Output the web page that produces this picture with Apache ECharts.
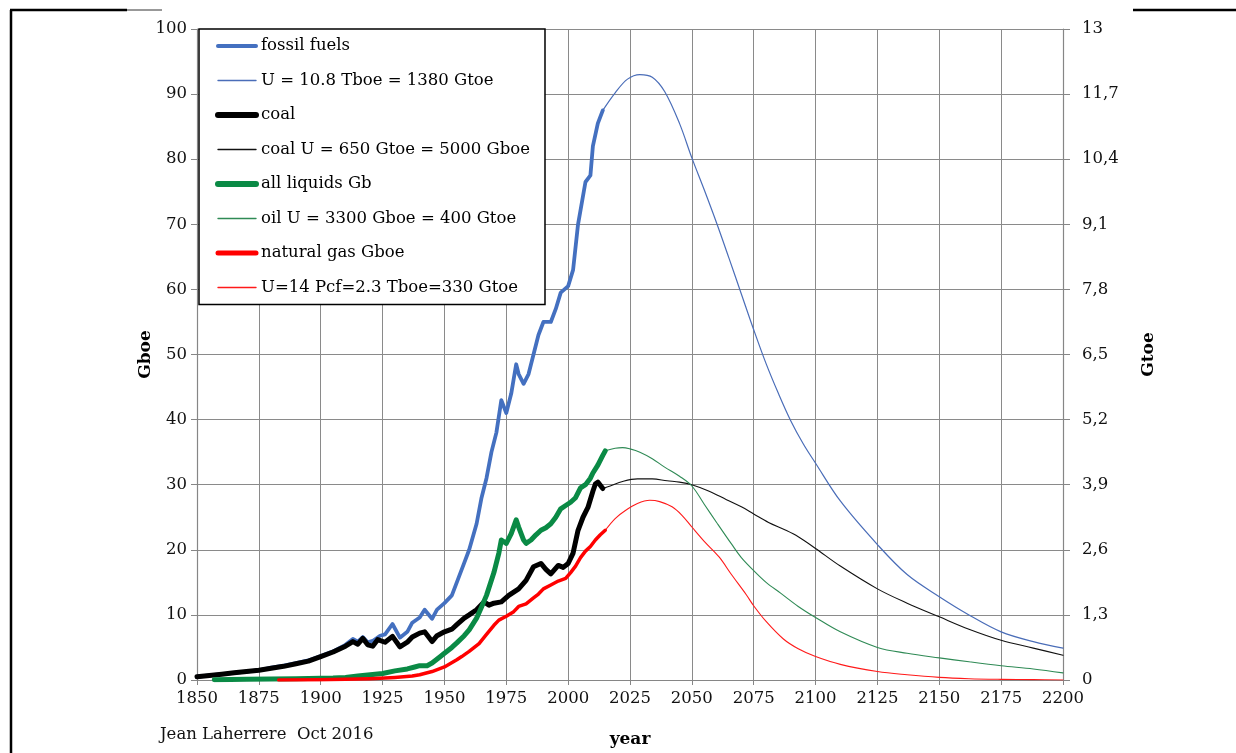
<!DOCTYPE html>
<html>
<head>
<meta charset="utf-8">
<script src="https://cdn.jsdelivr.net/npm/echarts@6/dist/echarts.min.js"></script>
<style>
  html, body { margin: 0; padding: 0; background: #fff; }
  #chart { width: 1236px; height: 753px; }
</style>
</head>
<body>
<div id="chart"></div>
<script>
// ---------- DATA ----------
const xTicks = [1850, 1875, 1900, 1925, 1950, 1975, 2000, 2025, 2050, 2075, 2100, 2125, 2150, 2175, 2200];

const seriesNames = [
  'fossil fuels',
  'U = 10.8 Tboe = 1380 Gtoe',
  'coal',
  'coal U = 650 Gtoe = 5000 Gboe',
  'all liquids Gb',
  'oil U = 3300 Gboe = 400 Gtoe',
  'natural gas Gboe',
  'U=14 Pcf=2.3 Tboe=330 Gtoe'
];

// fossil fuels (historic, Gboe)
const fossilYears = [1850,1855,1860,1865,1870,1875,1880,1885,1890,1895,1900,1905,1910,1913,1915,1917,1919,1921,1924,1926,1929,1932,1935,1937,1940,1942,1945,1947,1950,1953,1955,1958,1960,1963,1965,1967,1969,1971,1973,1975,1977,1979,1980,1982,1984,1986,1988,1990,1993,1995,1997,2000,2002,2004,2007,2009,2010,2012,2014];
const fossilValues = [0.5,0.7,0.9,1.1,1.3,1.5,1.9,2.2,2.6,3.0,3.7,4.4,5.4,6.3,5.9,6.6,5.8,6.0,6.8,7.0,8.6,6.5,7.4,8.8,9.6,10.8,9.4,10.8,11.8,13,15,18,20,24,28,31,35,38,43,41,44,48.5,47,45.5,47,50,53,55,55,57,59.5,60.5,63,70,76.5,77.5,82,85.5,87.5];

// fossil fuels model U = 10.8 Tboe
const fossilModelYears = [2014,2019,2024,2029,2034,2039,2045,2050,2055,2060,2065,2070,2075,2080,2085,2090,2095,2100,2110,2125,2137,2150,2162,2175,2188,2200];
const fossilModelValues = [87.5,90.2,92.3,93,92.6,90.4,85.5,80.2,75.3,70.2,64.8,59.3,53.8,48.6,44,39.8,36.3,33.3,27.5,20.8,16.2,12.8,10,7.4,5.9,4.9];

// coal (historic)
const coalYears = [1850,1855,1860,1865,1870,1875,1880,1885,1890,1895,1900,1905,1910,1913,1915,1917,1919,1921,1923,1926,1929,1932,1935,1937,1940,1942,1945,1947,1950,1953,1955,1958,1960,1963,1966,1968,1970,1973,1976,1980,1983,1986,1989,1991,1993,1996,1998,2000,2002,2004,2006,2008,2010,2011,2012,2014];
const coalValues = [0.5,0.7,0.9,1.1,1.3,1.5,1.8,2.1,2.5,2.9,3.6,4.3,5.2,5.9,5.5,6.4,5.4,5.2,6.2,5.8,6.7,5.1,5.8,6.6,7.2,7.4,5.9,6.8,7.4,7.8,8.5,9.5,10,10.8,12,11.5,11.8,12,13,14,15.3,17.4,17.9,17,16.3,17.6,17.3,17.9,19.5,23,25,26.5,29,30.1,30.4,29.4];

// coal model
const coalModelYears = [2014,2017,2022,2028,2034,2040,2045,2050,2057,2064,2070,2075,2081,2088,2093,2100,2110,2125,2137,2150,2162,2175,2188,2200];
const coalModelValues = [29.4,29.8,30.5,30.9,30.9,30.6,30.4,30,29,27.7,26.6,25.5,24.2,23,22,20.2,17.5,14,11.8,9.7,7.8,6.1,4.9,3.8];

// all liquids (historic, Gb)
const liquidsYears = [1857,1870,1880,1890,1900,1905,1910,1915,1920,1925,1930,1935,1938,1940,1943,1945,1948,1950,1953,1955,1958,1960,1963,1965,1967,1970,1972,1973,1975,1977,1979,1980,1982,1983,1985,1987,1989,1991,1993,1995,1997,1999,2001,2003,2005,2007,2009,2010,2012,2014,2015];
const liquidsValues = [0.05,0.1,0.15,0.2,0.25,0.3,0.4,0.6,0.8,1.0,1.4,1.7,2.0,2.2,2.2,2.6,3.5,4.1,5,5.7,6.8,7.7,9.5,11.2,13,16.5,19.5,21.5,21,22.5,24.6,23.5,21.5,21,21.5,22.3,23,23.4,24,25,26.3,26.8,27.3,28,29.5,30,31,31.8,33,34.5,35.2];

// oil model
const oilModelYears = [2015,2019,2022,2025,2029,2034,2039,2045,2050,2055,2060,2066,2070,2075,2080,2086,2093,2100,2110,2125,2137,2150,2162,2175,2188,2200];
const oilModelValues = [35.2,35.6,35.7,35.5,35,34,32.7,31.3,29.8,27,24.2,20.9,18.8,16.8,15,13.3,11.3,9.6,7.4,5.0,4.1,3.4,2.8,2.2,1.7,1.1];

// natural gas (historic, Gboe)
const gasYears = [1883,1900,1910,1920,1926,1930,1937,1940,1945,1950,1955,1957,1960,1964,1967,1970,1972,1975,1978,1980,1983,1986,1988,1990,1993,1996,1999,2001,2003,2005,2007,2009,2011,2013,2015];
const gasValues = [0,0.05,0.1,0.2,0.3,0.4,0.6,0.8,1.3,2.0,3.1,3.6,4.4,5.6,7,8.4,9.2,9.8,10.5,11.3,11.7,12.6,13.2,14,14.6,15.2,15.6,16.5,17.5,18.8,19.8,20.5,21.5,22.3,23];

// gas model
const gasModelYears = [2015,2019,2023,2028,2033,2037,2042,2046,2050,2055,2061,2066,2072,2075,2080,2087,2093,2100,2110,2125,2137,2150,2162,2175,2188,2200];
const gasModelValues = [23,24.8,26,27.1,27.6,27.4,26.6,25.3,23.5,21.3,18.9,16.2,13.1,11.4,9,6.3,4.8,3.6,2.4,1.3,0.8,0.4,0.2,0.1,0.05,0];

// ---------- CHART ----------
const zip = (xs, ys) => xs.map((x, i) => [x, ys[i]]);
const FONT = 'DejaVu Serif';

const seriesColors = ['#4470c0', '#4a6db8', '#000000', '#111111', '#0a8a45', '#2f8a55', '#ff0000', '#ff1a1a'];
const seriesWidths = [3.8, 1.2, 5, 1.1, 5, 1.1, 3.5, 1.1];
const legendWidths = [4, 1.4, 6, 1.4, 6, 1.4, 5, 1.4];

function lineSeries(i, xs, ys, smooth, z) {
  return {
    name: seriesNames[i],
    type: 'line',
    data: zip(xs, ys),
    symbol: 'none',
    showSymbol: false,
    smooth: smooth,
    z: z,
    lineStyle: { color: seriesColors[i], width: seriesWidths[i], cap: 'round', join: 'round' },
    itemStyle: { color: seriesColors[i] }
  };
}

const chart = echarts.init(document.getElementById('chart'), null, { renderer: 'canvas' });

chart.setOption({
  animation: false,
  backgroundColor: '#fff',
  textStyle: { fontFamily: FONT },
  grid: { left: 197, right: 173, top: 29, bottom: 70, containLabel: false },
  xAxis: {
    type: 'value',
    min: xTicks[0],
    max: xTicks[xTicks.length - 1],
    interval: 25,
    name: 'year',
    nameLocation: 'middle',
    nameGap: 51,
    nameMoveOverlap: false,
    nameTextStyle: { fontFamily: FONT, fontSize: 17, fontWeight: 'bold', color: '#000' },
    axisLine: { show: true, lineStyle: { color: '#868686', width: 1 } },
    axisTick: { show: true, length: 5, lineStyle: { color: '#868686' } },
    axisLabel: { fontFamily: FONT, fontSize: 16.5, color: '#111', margin: 10, formatter: v => String(v) },
    splitLine: { show: true, lineStyle: { color: '#8a8a8a', width: 1 } }
  },
  yAxis: [
    {
      type: 'value',
      min: 0, max: 100, interval: 10,
      position: 'left',
      name: 'Gboe',
      nameLocation: 'middle',
      nameRotate: 90,
      nameGap: 43,
      nameMoveOverlap: false,
      nameTextStyle: { fontFamily: FONT, fontSize: 17, fontWeight: 'bold', color: '#000' },
      axisLine: { show: true, lineStyle: { color: '#868686', width: 1.2 } },
      axisTick: { show: true, length: 6, lineStyle: { color: '#868686' } },
      axisLabel: { fontFamily: FONT, fontSize: 16.5, color: '#111', margin: 10 },
      splitLine: { show: true, lineStyle: { color: '#8a8a8a', width: 1 } }
    },
    {
      type: 'value',
      min: 0, max: 13, interval: 1.3,
      position: 'right',
      name: 'Gtoe',
      nameLocation: 'middle',
      nameRotate: 90,
      nameGap: 77,
      nameMoveOverlap: false,
      nameTextStyle: { fontFamily: FONT, fontSize: 17, fontWeight: 'bold', color: '#000' },
      axisLine: { show: true, lineStyle: { color: '#868686', width: 1.2 } },
      axisTick: { show: true, length: 7, lineStyle: { color: '#868686' } },
      axisLabel: {
        fontFamily: FONT, fontSize: 16.5, color: '#111', margin: 19,
        formatter: v => String(Math.round(v * 10) / 10).replace('.', ',')
      },
      splitLine: { show: false }
    }
  ],
  legend: {
    orient: 'vertical',
    left: 199,
    top: 29,
    data: seriesNames.map((n, i) => ({
      name: n,
      itemStyle: { opacity: 0 },
      lineStyle: { width: legendWidths[i], color: seriesColors[i], cap: 'round' }
    })),
    itemWidth: 38,
    itemHeight: 14,
    itemGap: 16.5,
    padding: [8, 15, 8, 16],
    backgroundColor: '#fff',
    borderColor: '#000',
    borderWidth: 1.5,
    borderRadius: 0,
    z: 10,
    itemStyle: { opacity: 0 },
    textStyle: { fontFamily: FONT, fontSize: 16.5, color: '#000', lineHeight: 18 }
  },
  series: [
    lineSeries(0, fossilYears, fossilValues, false, 3),
    lineSeries(1, fossilModelYears, fossilModelValues, 0.35, 2),
    lineSeries(2, coalYears, coalValues, false, 4),
    lineSeries(3, coalModelYears, coalModelValues, 0.35, 2),
    lineSeries(4, liquidsYears, liquidsValues, false, 5),
    lineSeries(5, oilModelYears, oilModelValues, 0.35, 2),
    lineSeries(6, gasYears, gasValues, false, 6),
    lineSeries(7, gasModelYears, gasModelValues, 0.35, 2)
  ],
  graphic: [
    { type: 'line', shape: { x1: 11, y1: 10, x2: 11, y2: 753 }, style: { stroke: '#000', lineWidth: 2.5 }, silent: true },
    { type: 'line', shape: { x1: 10, y1: 10, x2: 127, y2: 10 }, style: { stroke: '#000', lineWidth: 2.5 }, silent: true },
    { type: 'line', shape: { x1: 127, y1: 10, x2: 162, y2: 10 }, style: { stroke: '#333', lineWidth: 1 }, silent: true },
    { type: 'line', shape: { x1: 1133, y1: 10, x2: 1236, y2: 10 }, style: { stroke: '#000', lineWidth: 2.5 }, silent: true },
    { type: 'text', left: 160, top: 726, style: { text: 'Jean Laherrere  Oct 2016', fontFamily: FONT, fontSize: 16.5, fill: '#111' }, silent: true }
  ]
});
</script>
</body>
</html>
